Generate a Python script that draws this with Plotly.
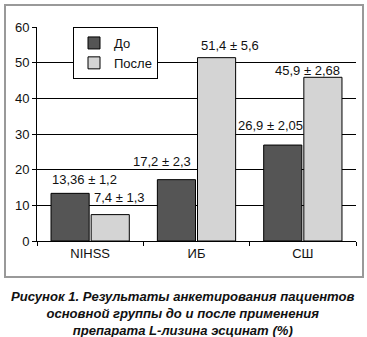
import plotly.graph_objects as go

categories = ["NIHSS", "ИБ", "СШ"]
before_vals = [13.36, 17.2, 26.9]
after_vals = [7.4, 51.4, 45.9]
before_err = ["1,2", "2,3", "2,05"]
after_err = ["1,3", "5,6", "2,68"]
before_txt = ["13,36", "17,2", "26,9"]
after_txt = ["7,4", "51,4", "45,9"]
y_ticks = [0, 10, 20, 30, 40, 50, 60]

FONT = "Liberation Sans, Arial, sans-serif"

fig = go.Figure()
fig.add_trace(go.Bar(name="До", x=categories, y=before_vals,
                     marker=dict(color="#555555", line=dict(color="#000000", width=1))))
fig.add_trace(go.Bar(name="После", x=categories, y=after_vals,
                     marker=dict(color="#d4d4d4", line=dict(color="#000000", width=1))))

# label offsets (category units, value units) from the top centre of each bar
offsets_before = [(0.14, 4.0), (-0.134, 5.2), (-0.118, 5.6)]
offsets_after = [(0.09, 4.7), (0.126, 3.5), (-0.15, 1.8)]
annotations = []
for i in range(len(categories)):
    dx, dy = offsets_before[i]
    annotations.append(dict(x=i - 0.19 + dx, y=before_vals[i] + dy, xref="x", yref="y",
                            text=f"{before_txt[i]} ± {before_err[i]}", showarrow=False,
                            font=dict(size=13, color="#111111", family=FONT)))
    dx, dy = offsets_after[i]
    annotations.append(dict(x=i + 0.19 + dx, y=after_vals[i] + dy, xref="x", yref="y",
                            text=f"{after_txt[i]} ± {after_err[i]}", showarrow=False,
                            font=dict(size=13, color="#111111", family=FONT)))

caption = ("<b><i>Рисунок 1. Результаты анкетирования пациентов<br>"
           "основной группы до и после применения<br>"
           "препарата L-лизина эсцинат (%)</i></b>")
annotations.append(dict(x=(183 - 37) / 319, xref="paper", xanchor="center", y=(241 - 313) / 214,
                        yref="paper", yanchor="middle", text=caption, showarrow=False,
                        align="center", font=dict(size=13.1, color="#111111", family=FONT)))

fig.update_layout(
    width=367, height=337,
    margin=dict(l=37, r=11, t=27, b=96),
    paper_bgcolor="white", plot_bgcolor="white",
    barmode="group", bargap=0.245, bargroupgap=0.05,
    font=dict(family=FONT, size=13, color="#111111"),
    showlegend=True,
    legend=dict(x=(73 - 37) / 319, y=1.0, xanchor="left", yanchor="top",
                bordercolor="#000000", borderwidth=1, bgcolor="white",
                font=dict(size=13, family=FONT), tracegroupgap=0,
                itemwidth=30),
    xaxis=dict(type="category", showgrid=False, showline=True, linecolor="#000000",
               linewidth=1, ticks="outside", tickson="boundaries", ticklen=4,
               tickcolor="#000000", tickfont=dict(size=13)),
    yaxis=dict(range=[0, 60], tickvals=y_ticks, showgrid=True, gridcolor="#000000",
               gridwidth=1, showline=True, linecolor="#000000", linewidth=1,
               ticks="outside", ticklen=4, tickcolor="#000000", zeroline=False,
               tickfont=dict(size=13)),
    annotations=annotations,
    shapes=[dict(type="rect", xref="paper", yref="paper",
                 x0=(5 - 37) / 319, x1=(363 - 37) / 319,
                 y0=(241 - 277) / 214, y1=(241 - 5) / 214,
                 line=dict(color="#999999", width=2), layer="below")],
)

fig.write_html("out.html")
